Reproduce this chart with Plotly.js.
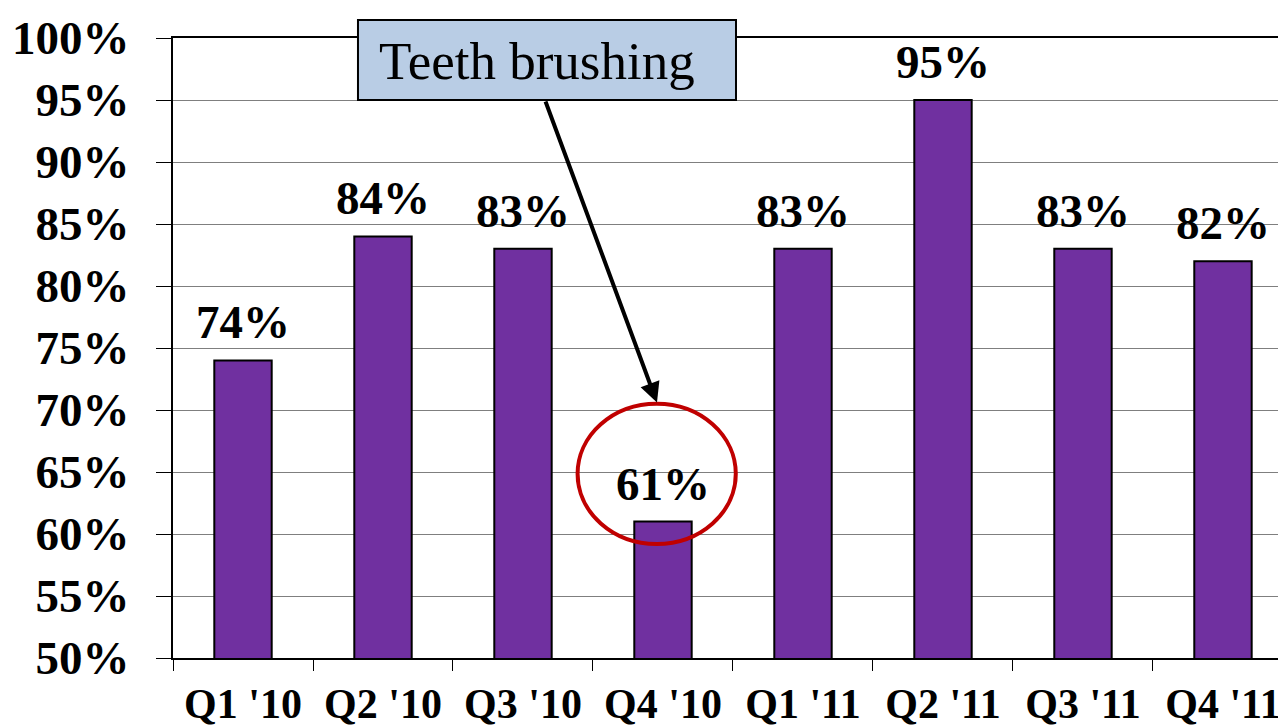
<!DOCTYPE html>
<html>
<head>
<meta charset="utf-8">
<script src="https://cdn.plot.ly/plotly-3.0.1.min.js"></script>
<style>html,body{margin:0;padding:0;background:#fff;}#chart{width:1278px;height:728px;}</style>
</head>
<body>
<div id="chart"></div>
<script>
const categories = ["Q1 '10", "Q2 '10", "Q3 '10", "Q4 '10", "Q1 '11", "Q2 '11", "Q3 '11", "Q4 '11"];
const values = [74, 84, 83, 61, 83, 95, 83, 82];
const calloutText = "Teeth brushing";

const FONT = "Liberation Serif, Times New Roman, serif";

const trace = {
  type: 'bar',
  x: categories,
  y: values,
  width: 0.41,
  marker: {color: '#7030A0', line: {color: '#000000', width: 2}},
  hoverinfo: 'skip'
};

const labelAnnotations = categories.map((c, i) => ({
  xref: 'x', yref: 'y', x: c, y: values[i],
  xanchor: 'center', yanchor: 'bottom', yshift: 10,
  text: '<b>' + values[i] + '%</b>', showarrow: false,
  font: {family: FONT, size: 47, color: '#000'}
}));

const layout = {
  width: 1278, height: 728,
  margin: {l: 173, r: 0, t: 38, b: 70, pad: 0},
  paper_bgcolor: '#fff', plot_bgcolor: '#fff',
  showlegend: false,
  bargap: 0.59,
  font: {family: FONT, color: '#000'},
  xaxis: {
    type: 'category',
    range: [-0.5, 7.393],
    showline: true, mirror: true, linecolor: '#000', linewidth: 2,
    ticks: 'outside', tickson: 'boundaries', ticklen: 11, tickcolor: '#000', tickwidth: 1,
    ticklabelstandoff: 8,
    tickfont: {family: FONT, size: 42, color: '#000', weight: 'bold'},
    showgrid: false, zeroline: false, fixedrange: true
  },
  yaxis: {
    range: [50, 100], dtick: 5, tick0: 50,
    ticksuffix: '%',
    showline: true, linecolor: '#000', linewidth: 2,
    ticks: 'outside', ticklen: 15, tickcolor: '#000', tickwidth: 1,
    ticklabelstandoff: 17,
    tickfont: {family: FONT, size: 47, color: '#000', weight: 'bold'},
    showgrid: true, gridcolor: '#7f7f7f', gridwidth: 1,
    zeroline: false, fixedrange: true
  },
  shapes: [
    {type: 'circle', xref: 'x', yref: 'y', x0: 2.39, x1: 3.52, y0: 59.2, y1: 70.5,
     line: {color: '#C00000', width: 4}, fillcolor: 'rgba(0,0,0,0)'},
    {type: 'rect', xref: 'paper', yref: 'paper', x0: 0.1674, x1: 0.5095, y0: 0.9, y1: 1.029,
     line: {color: '#000', width: 2}, fillcolor: '#B9CDE5', layer: 'above'}
  ],
  annotations: labelAnnotations.concat([
    {xref: 'paper', yref: 'paper', x: 0.1846, y: 0.963, xanchor: 'left', yanchor: 'middle',
     text: calloutText, showarrow: false, font: {family: FONT, size: 53, color: '#000'}},
    {xref: 'x', yref: 'y', x: 2.957, y: 70.6, axref: 'x', ayref: 'y', ax: 2.157, ay: 95,
     text: '', showarrow: true, arrowhead: 2, arrowsize: 1, arrowwidth: 4, arrowcolor: '#000', standoff: 0}
  ])
};

Plotly.newPlot('chart', [trace], layout, {displayModeBar: false, staticPlot: true});
</script>
</body>
</html>
